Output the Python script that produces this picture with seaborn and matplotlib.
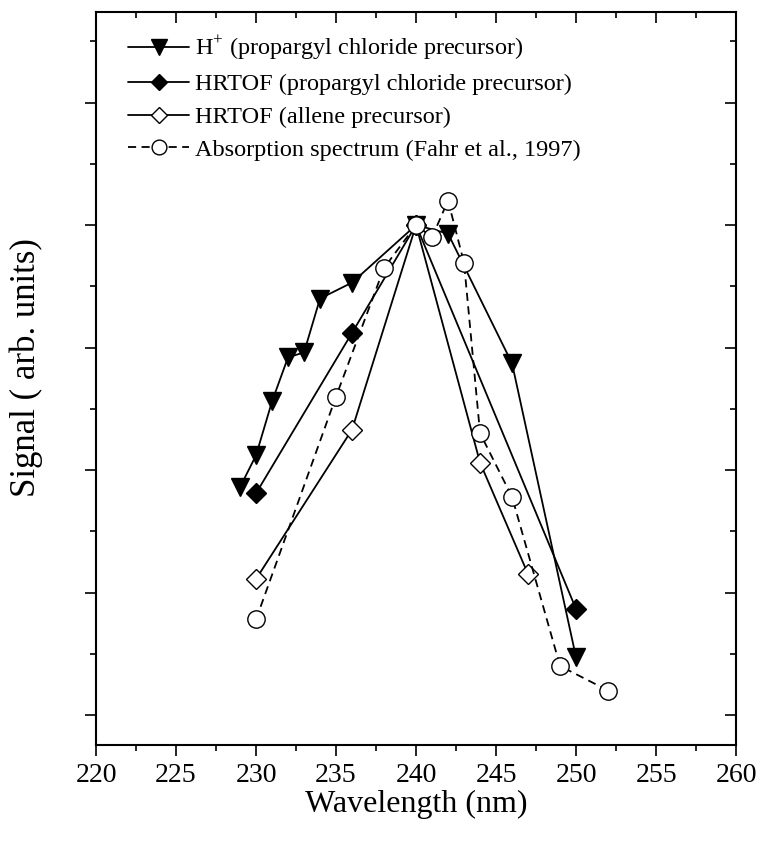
import matplotlib
matplotlib.use("Agg")
import matplotlib.pyplot as plt
from matplotlib.ticker import MultipleLocator, NullFormatter
from matplotlib import lines as mlines
import seaborn as sns

# Wavelength (nm) and normalised signal for each data set
h_plus_wl = [229, 230, 231, 232, 233, 234, 236, 240, 242, 246, 250]
h_plus_sig = [1.86, 2.12, 2.56, 2.92, 2.96, 3.40, 3.53, 4.00, 3.93, 2.87, 0.47]

hrtof_pc_wl = [230, 236, 240, 250]
hrtof_pc_sig = [1.81, 3.12, 4.00, 0.865]

hrtof_al_wl = [230, 236, 240, 244, 247]
hrtof_al_sig = [1.11, 2.33, 4.00, 2.06, 1.15]

absorb_wl = [230, 235, 238, 240, 241, 242, 243, 244, 246, 249, 252]
absorb_sig = [0.78, 2.60, 3.65, 4.00, 3.90, 4.20, 3.69, 2.30, 1.78, 0.40, 0.20]

labels = [
    r"H$^{+}$ (propargyl chloride precursor)",
    "HRTOF (propargyl chloride precursor)",
    "HRTOF (allene precursor)",
    "Absorption spectrum (Fahr et al., 1997)",
]

sns.set_theme(style="ticks")
plt.rcParams["font.family"] = ["Liberation Serif", "DejaVu Serif"]
plt.rcParams["mathtext.fontset"] = "custom"
plt.rcParams["mathtext.rm"] = "Liberation Serif"
plt.rcParams["text.color"] = "black"
plt.rcParams["axes.labelcolor"] = "black"
plt.rcParams["xtick.color"] = "black"
plt.rcParams["ytick.color"] = "black"

fig = plt.figure(figsize=(7.62, 8.5), dpi=100)
ax = fig.add_axes([0.126, 0.1235, 0.840, 0.8625])

common = dict(ax=ax, color="black", linewidth=1.3, markeredgecolor="black",
              markeredgewidth=1.0, estimator=None)

sns.lineplot(x=h_plus_wl, y=h_plus_sig, marker="v", markersize=13.5,
             markerfacecolor="black", label=labels[0], **common)
sns.lineplot(x=hrtof_pc_wl, y=hrtof_pc_sig, marker="D", markersize=10,
             markerfacecolor="black", label=labels[1], **common)
sns.lineplot(x=hrtof_al_wl, y=hrtof_al_sig, marker="D", markersize=10,
             markerfacecolor="white", label=labels[2], **common)
sns.lineplot(x=absorb_wl, y=absorb_sig, marker="o", markersize=12.5,
             markerfacecolor="white", linestyle=(0, (4.5, 3)),
             label=labels[3], **common)

ax.set_xlim(220, 260)
ax.set_ylim(-0.245, 5.74)
ax.xaxis.set_major_locator(MultipleLocator(5))
ax.xaxis.set_minor_locator(MultipleLocator(2.5))
ax.yaxis.set_major_locator(MultipleLocator(1))
ax.yaxis.set_minor_locator(MultipleLocator(0.5))
ax.yaxis.set_major_formatter(NullFormatter())

ax.tick_params(axis="both", which="both", color="black", width=1.2)
ax.tick_params(axis="x", which="major", direction="out", length=8,
               labelsize=20, pad=5, top=True, labeltop=False)
ax.tick_params(axis="x", which="minor", direction="out", length=4, top=True)
ax.tick_params(axis="y", which="major", direction="out", length=8, right=True)
ax.tick_params(axis="y", which="minor", direction="out", length=4, right=True)
# ticks on the top and right spines point inward
for t in ax.xaxis.get_major_ticks() + ax.xaxis.get_minor_ticks():
    t.tick2line.set_marker(mlines.TICKDOWN)
for t in ax.yaxis.get_major_ticks() + ax.yaxis.get_minor_ticks():
    t.tick2line.set_marker(mlines.TICKLEFT)

for s in ax.spines.values():
    s.set_color("black")
    s.set_linewidth(1.5)

ax.set_xlabel("Wavelength (nm)", fontsize=23, labelpad=1)
ax.set_ylabel("Signal ( arb. units)", fontsize=25)
ax.yaxis.set_label_coords(-0.083, 0.515)

leg = ax.legend(loc="upper left", frameon=False, fontsize=17.5,
                handlelength=2.5, handletextpad=0.25, labelspacing=0.45,
                borderaxespad=0.4, bbox_to_anchor=(0.02, 0.997),
                markerscale=0.85)

fig.savefig("out.png", dpi=100)
